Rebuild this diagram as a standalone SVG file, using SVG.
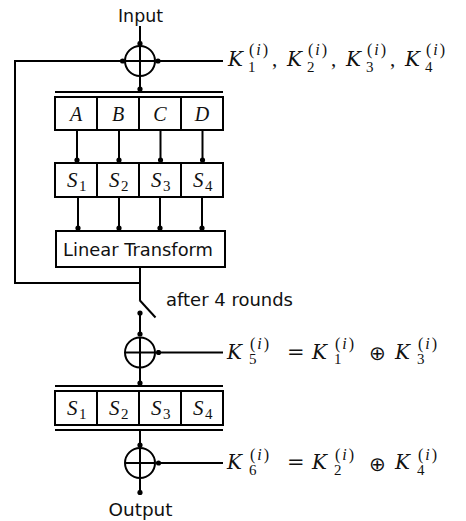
<svg xmlns="http://www.w3.org/2000/svg" width="466" height="521" viewBox="0 0 466 521">
  <style>
    .ln { stroke: #000; stroke-width: 2; fill: none; }
    .bx { fill: #fff; stroke: #000; stroke-width: 2; }
    .sans { font-family: "DejaVu Sans", "Noto Sans", sans-serif; font-size: 17px; fill: #111; }
    .math { font-family: "Liberation Serif", "DejaVu Serif", serif; fill: #111; }
    .it { font-style: italic; }
    .big { font-size: 21px; }
    .kk { font-family: "DejaVu Serif", serif; font-size: 20px; font-style: italic; }
    .sm { font-size: 15px; }
    .sp { font-size: 16px; }
    .eq { font-family: "DejaVu Serif", serif; font-size: 21px; }
    .op { font-family: "DejaVu Sans", sans-serif; font-size: 20px; }
    .cell { font-family: "Liberation Serif", "DejaVu Serif", serif; font-size: 20px; fill: #111; text-anchor: middle; }
  </style>
  <defs>
    <marker id="dot" viewBox="0 0 6 6" refX="3" refY="3" markerWidth="6" markerHeight="6" markerUnits="userSpaceOnUse">
      <circle cx="3" cy="3" r="2.6" fill="#000"/>
    </marker>
  </defs>

  <rect width="466" height="521" fill="#fff"/>

  <!-- connectors -->
  <g id="connectors" class="ln">
    <!-- input into first xor -->
    <path d="M140 26 V43.5" marker-end="url(#dot)"/>
    <!-- round key into first xor -->
    <path d="M223 61 H158" marker-end="url(#dot)"/>
    <!-- feedback loop -->
    <path d="M140 283 H15 V61 H122.5" marker-end="url(#dot)"/>
    <!-- xor to register -->
    <path d="M140 76 V89" marker-end="url(#dot)"/>
    <!-- register to S-boxes -->
    <path d="M77 131 V160" marker-end="url(#dot)"/>
    <path d="M119 131 V160" marker-end="url(#dot)"/>
    <path d="M160.5 131 V160" marker-end="url(#dot)"/>
    <path d="M202.5 131 V160" marker-end="url(#dot)"/>
    <!-- S-boxes to linear transform -->
    <path d="M78 198 V228" marker-end="url(#dot)"/>
    <path d="M119 198 V228" marker-end="url(#dot)"/>
    <path d="M160 198 V228" marker-end="url(#dot)"/>
    <path d="M202 198 V228" marker-end="url(#dot)"/>
    <!-- linear transform down to switch -->
    <path d="M140 267 V300"/>
    <!-- switch blade -->
    <path d="M139.5 300 L155.5 317.5"/>
    <!-- switch to second xor -->
    <path d="M140 313 V334" marker-start="url(#dot)" marker-end="url(#dot)"/>
    <!-- K5 into second xor -->
    <path d="M223 352.5 H158.5" marker-end="url(#dot)"/>
    <!-- second xor to final S-layer -->
    <path d="M140 367.5 V383" marker-end="url(#dot)"/>
    <!-- final S-layer to third xor -->
    <path d="M140 431 V445" marker-end="url(#dot)"/>
    <!-- K6 into third xor -->
    <path d="M223 463 H158.5" marker-end="url(#dot)"/>
    <!-- third xor to output -->
    <path d="M140 478 V492.5" marker-end="url(#dot)"/>
  </g>

  <!-- input label -->
  <g id="input">
    <text class="sans" x="140.5" y="22" text-anchor="middle" textLength="45" lengthAdjust="spacingAndGlyphs">Input</text>
  </g>

  <!-- first xor -->
  <g id="xor1" class="ln">
    <circle cx="140" cy="61" r="15"/>
    <path d="M125 61 H155 M140 46 V76"/>
  </g>

  <!-- round key label -->
  <g id="key-label">
    <text class="math">
      <tspan x="228" y="65.5" class="kk">K</tspan><tspan x="249" y="55" class="sp">(</tspan><tspan dx="2" class="sp it">i</tspan><tspan dx="2" class="sp">)</tspan><tspan x="248" y="72" class="sm">1</tspan><tspan x="272" y="65.5" class="big">,</tspan>
      <tspan x="287" y="65.5" class="kk">K</tspan><tspan x="308" y="55" class="sp">(</tspan><tspan dx="2" class="sp it">i</tspan><tspan dx="2" class="sp">)</tspan><tspan x="307" y="72" class="sm">2</tspan><tspan x="331" y="65.5" class="big">,</tspan>
      <tspan x="346" y="65.5" class="kk">K</tspan><tspan x="367" y="55" class="sp">(</tspan><tspan dx="2" class="sp it">i</tspan><tspan dx="2" class="sp">)</tspan><tspan x="366" y="72" class="sm">3</tspan><tspan x="390" y="65.5" class="big">,</tspan>
      <tspan x="405" y="65.5" class="kk">K</tspan><tspan x="426" y="55" class="sp">(</tspan><tspan dx="2" class="sp it">i</tspan><tspan dx="2" class="sp">)</tspan><tspan x="425" y="72" class="sm">4</tspan>
    </text>
  </g>

  <!-- state register A B C D -->
  <g id="register">
    <path class="ln" d="M55 92 H223"/>
    <rect class="bx" x="55" y="97" width="168" height="33"/>
    <path class="ln" d="M97 97 V130 M139 97 V130 M181 97 V130"/>
    <text class="cell it" x="76" y="121">A</text>
    <text class="cell it" x="118" y="121">B</text>
    <text class="cell it" x="160" y="121">C</text>
    <text class="cell it" x="202" y="121">D</text>
  </g>

  <!-- S-box layer -->
  <g id="sboxes">
    <rect class="bx" x="55" y="163" width="168" height="34"/>
    <path class="ln" d="M97 163 V197 M139 163 V197 M181 163 V197"/>
    <text class="math"><tspan x="67" y="187" class="big it">S</tspan><tspan x="79" y="191" class="sm">1</tspan></text>
    <text class="math"><tspan x="109" y="187" class="big it">S</tspan><tspan x="121" y="191" class="sm">2</tspan></text>
    <text class="math"><tspan x="151" y="187" class="big it">S</tspan><tspan x="163" y="191" class="sm">3</tspan></text>
    <text class="math"><tspan x="193" y="187" class="big it">S</tspan><tspan x="205" y="191" class="sm">4</tspan></text>
  </g>

  <!-- linear transform -->
  <g id="linear">
    <rect class="bx" x="56" y="231" width="169" height="36"/>
    <text class="sans" x="63" y="256" textLength="150" lengthAdjust="spacingAndGlyphs">Linear Transform</text>
  </g>

  <!-- switch label -->
  <g id="switch">
    <text class="sans" x="166" y="305.5" textLength="127" lengthAdjust="spacingAndGlyphs">after 4 rounds</text>
  </g>

  <!-- second xor -->
  <g id="xor2" class="ln">
    <circle cx="140" cy="352.5" r="15"/>
    <path d="M125 352.5 H155 M140 337.5 V367.5"/>
  </g>

  <!-- K5 label -->
  <g id="k5-label">
    <text class="math">
      <tspan x="227" y="358.5" class="kk">K</tspan><tspan x="250" y="349" class="sp">(</tspan><tspan dx="2" class="sp it">i</tspan><tspan dx="2" class="sp">)</tspan><tspan x="249" y="364" class="sm">5</tspan>
      <tspan x="287" y="358.5" class="eq">=</tspan>
      <tspan x="312" y="358.5" class="kk">K</tspan><tspan x="335" y="349" class="sp">(</tspan><tspan dx="2" class="sp it">i</tspan><tspan dx="2" class="sp">)</tspan><tspan x="334" y="364" class="sm">1</tspan>
      <tspan x="369" y="360" class="op">⊕</tspan>
      <tspan x="395" y="358.5" class="kk">K</tspan><tspan x="418" y="349" class="sp">(</tspan><tspan dx="2" class="sp it">i</tspan><tspan dx="2" class="sp">)</tspan><tspan x="417" y="364" class="sm">3</tspan>
    </text>
  </g>

  <!-- final S-box layer -->
  <g id="sboxes-final">
    <path class="ln" d="M55 386 H223 M55 430 H223"/>
    <rect class="bx" x="55" y="391" width="168" height="34"/>
    <path class="ln" d="M97 391 V425 M139 391 V425 M181 391 V425"/>
    <text class="math"><tspan x="67" y="415" class="big it">S</tspan><tspan x="79" y="419" class="sm">1</tspan></text>
    <text class="math"><tspan x="109" y="415" class="big it">S</tspan><tspan x="121" y="419" class="sm">2</tspan></text>
    <text class="math"><tspan x="151" y="415" class="big it">S</tspan><tspan x="163" y="419" class="sm">3</tspan></text>
    <text class="math"><tspan x="193" y="415" class="big it">S</tspan><tspan x="205" y="419" class="sm">4</tspan></text>
  </g>

  <!-- third xor -->
  <g id="xor3" class="ln">
    <circle cx="140" cy="463" r="15"/>
    <path d="M125 463 H155 M140 448 V478"/>
  </g>

  <!-- K6 label -->
  <g id="k6-label">
    <text class="math">
      <tspan x="227" y="469" class="kk">K</tspan><tspan x="250" y="459.5" class="sp">(</tspan><tspan dx="2" class="sp it">i</tspan><tspan dx="2" class="sp">)</tspan><tspan x="249" y="474.5" class="sm">6</tspan>
      <tspan x="287" y="469" class="eq">=</tspan>
      <tspan x="312" y="469" class="kk">K</tspan><tspan x="335" y="459.5" class="sp">(</tspan><tspan dx="2" class="sp it">i</tspan><tspan dx="2" class="sp">)</tspan><tspan x="334" y="474.5" class="sm">2</tspan>
      <tspan x="369" y="470.5" class="op">⊕</tspan>
      <tspan x="395" y="469" class="kk">K</tspan><tspan x="418" y="459.5" class="sp">(</tspan><tspan dx="2" class="sp it">i</tspan><tspan dx="2" class="sp">)</tspan><tspan x="417" y="474.5" class="sm">4</tspan>
    </text>
  </g>

  <!-- output label -->
  <g id="output">
    <text class="sans" x="140.5" y="516" text-anchor="middle" textLength="64" lengthAdjust="spacingAndGlyphs">Output</text>
  </g>
</svg>
